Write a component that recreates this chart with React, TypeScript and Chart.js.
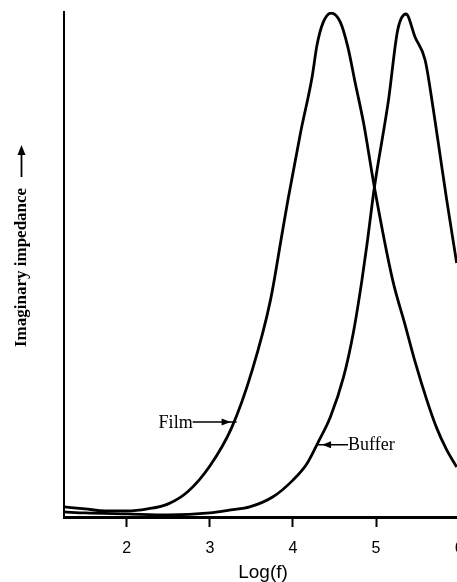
import React, { useEffect, useRef } from 'react';
import { Chart, registerables } from 'chart.js';

Chart.register(...registerables);

// ---- data ----
const filmLogF = [1.245, 1.5, 1.74, 2.0, 2.25, 2.5, 2.74, 3.0, 3.26, 3.51, 3.73, 3.87, 3.94, 4.09, 4.23, 4.29, 4.36, 4.46, 4.57, 4.66, 4.75, 4.85, 4.98, 5.2, 5.35, 5.47, 5.61, 5.73, 5.85, 5.97];
const filmImpedance = [2.0, 1.6, 1.2, 1.2, 1.6, 2.6, 5.1, 10.1, 17.6, 29.1, 43.0, 56.2, 62.8, 76.0, 87.1, 93.5, 97.8, 99.8, 98.0, 93.1, 85.9, 78.0, 65.3, 46.9, 38.0, 30.7, 23.2, 17.6, 13.3, 9.9];

const bufferLogF = [1.245, 1.5, 2.0, 2.5, 3.0, 3.25, 3.48, 3.76, 4.0, 4.17, 4.3, 4.45, 4.61, 4.73, 4.83, 4.89, 4.98, 5.15, 5.26, 5.36, 5.47, 5.59, 5.69, 5.77, 5.85, 5.97];
const bufferImpedance = [1.0, 0.8, 0.6, 0.4, 0.8, 1.4, 2.0, 4.0, 7.3, 10.6, 14.7, 19.8, 27.8, 36.8, 46.9, 53.9, 65.3, 82.6, 96.4, 99.6, 95.0, 90.5, 80.6, 71.7, 62.8, 50.3];

const xTickValues = [2, 3, 4, 5, 6];
const xMin = 1.245;
const xMax = 6.371;
const yMin = 0;
const yMax = 100;

const annotationLabels = ['Film', 'Buffer'];
const annotationLogF = [3.25, 4.35];
const annotationValue = [18.8, 14.3];
const annotationSide = [-1, 1]; // -1: text on the left, arrow pointing right; 1: text on the right

const xAxisTitle = 'Log(f)';
const yAxisTitle = 'Imaginary impedance';

function drawHead(ctx: CanvasRenderingContext2D, x: number, y: number, dx: number, dy: number, len: number, half: number) {
  const px = -dy, py = dx;
  ctx.beginPath();
  ctx.moveTo(x, y);
  ctx.lineTo(x - dx * len + px * half, y - dy * len + py * half);
  ctx.lineTo(x - dx * len - px * half, y - dy * len - py * half);
  ctx.closePath();
  ctx.fill();
}

const overlayPlugin = {
  id: 'overlay',
  afterDraw(chart: any) {
    const ctx: CanvasRenderingContext2D = chart.ctx;
    const xs = chart.scales.x;
    const ys = chart.scales.y;
    ctx.save();
    ctx.fillStyle = '#000';
    ctx.strokeStyle = '#000';

    // curve annotations
    ctx.font = '18px "Liberation Serif", "Times New Roman", serif';
    ctx.textBaseline = 'alphabetic';
    annotationLabels.forEach((label, i) => {
      const tx = xs.getPixelForValue(annotationLogF[i]);
      const ty = ys.getPixelForValue(annotationValue[i]);
      const side = annotationSide[i];
      const len = side < 0 ? 38 : 26;
      const endX = tx + side * len;
      ctx.lineWidth = 1.6;
      ctx.beginPath();
      ctx.moveTo(endX, ty);
      ctx.lineTo(tx - side * 6, ty);
      ctx.stroke();
      drawHead(ctx, tx, ty, -side, 0, 9, 3.5);
      if (side < 0) {
        ctx.textAlign = 'right';
        ctx.fillText(label, endX, ty + 6);
      } else {
        ctx.textAlign = 'left';
        ctx.fillText(label, endX, ty + 5);
      }
    });

    // x axis title
    ctx.font = '19px "Liberation Sans", Arial, sans-serif';
    ctx.textAlign = 'center';
    ctx.textBaseline = 'alphabetic';
    ctx.fillText(xAxisTitle, 263, 578);

    // y axis title (rotated) + arrow
    ctx.save();
    ctx.translate(26, 347);
    ctx.rotate(-Math.PI / 2);
    ctx.font = 'bold 17px "Liberation Serif", "Times New Roman", serif';
    ctx.textAlign = 'left';
    ctx.textBaseline = 'alphabetic';
    ctx.fillText(yAxisTitle, 0, 0);
    ctx.restore();

    ctx.lineWidth = 1.8;
    ctx.beginPath();
    ctx.moveTo(21.5, 177);
    ctx.lineTo(21.5, 152);
    ctx.stroke();
    drawHead(ctx, 21.5, 145, 0, -1, 10, 4);

    ctx.restore();
  },
};

export default function App() {
  const canvasRef = useRef<HTMLCanvasElement | null>(null);

  useEffect(() => {
    const canvas = canvasRef.current;
    if (!canvas) return;
    const chart = new Chart(canvas, {
      type: 'line',
      data: {
        datasets: [
          {
            label: 'Film',
            data: filmLogF.map((x, i) => ({ x, y: filmImpedance[i] })),
            borderColor: '#000',
            borderWidth: 2.8,
            pointRadius: 0,
            fill: false,
            cubicInterpolationMode: 'monotone',
          },
          {
            label: 'Buffer',
            data: bufferLogF.map((x, i) => ({ x, y: bufferImpedance[i] })),
            borderColor: '#000',
            borderWidth: 2.8,
            pointRadius: 0,
            fill: false,
            cubicInterpolationMode: 'monotone',
          },
        ],
      },
      options: {
        animation: false,
        responsive: false,
        devicePixelRatio: 1,
        layout: { padding: { top: 12, left: 0, right: 0, bottom: 0 } },
        plugins: {
          legend: { display: false },
          tooltip: { enabled: false },
        },
        scales: {
          x: {
            type: 'linear',
            min: xMin,
            max: xMax,
            afterFit: (scale: any) => {
              scale.height = 65;
              scale.paddingLeft = 0;
              scale.paddingRight = 0;
            },
            afterBuildTicks: (scale: any) => {
              scale.ticks = xTickValues.map((v) => ({ value: v }));
            },
            grid: {
              display: true,
              drawOnChartArea: false,
              drawTicks: true,
              tickLength: 10,
              tickWidth: 2,
              tickColor: '#000',
            },
            border: { display: true, color: '#000', width: 3 },
            ticks: {
              color: '#000',
              font: { family: '"Liberation Sans", Arial, sans-serif', size: 16 },
              padding: 12,
              maxRotation: 0,
              autoSkip: false,
            },
          },
          y: {
            type: 'linear',
            min: yMin,
            max: yMax,
            afterFit: (scale: any) => {
              scale.width = 64;
            },
            grid: { display: false },
            border: { display: true, color: '#000', width: 2 },
            ticks: { display: false },
          },
        },
      } as any,
      plugins: [overlayPlugin],
    });
    return () => chart.destroy();
  }, []);

  return (
    <div
      style={{
        position: 'fixed',
        left: 0,
        top: 0,
        width: 457,
        height: 582,
        overflow: 'hidden',
        background: '#fff',
      }}
    >
      <canvas
        ref={canvasRef}
        width={490}
        height={582}
        style={{ position: 'absolute', left: 0, top: 0, display: 'block', width: 490, height: 582 }}
      />
    </div>
  );
}
